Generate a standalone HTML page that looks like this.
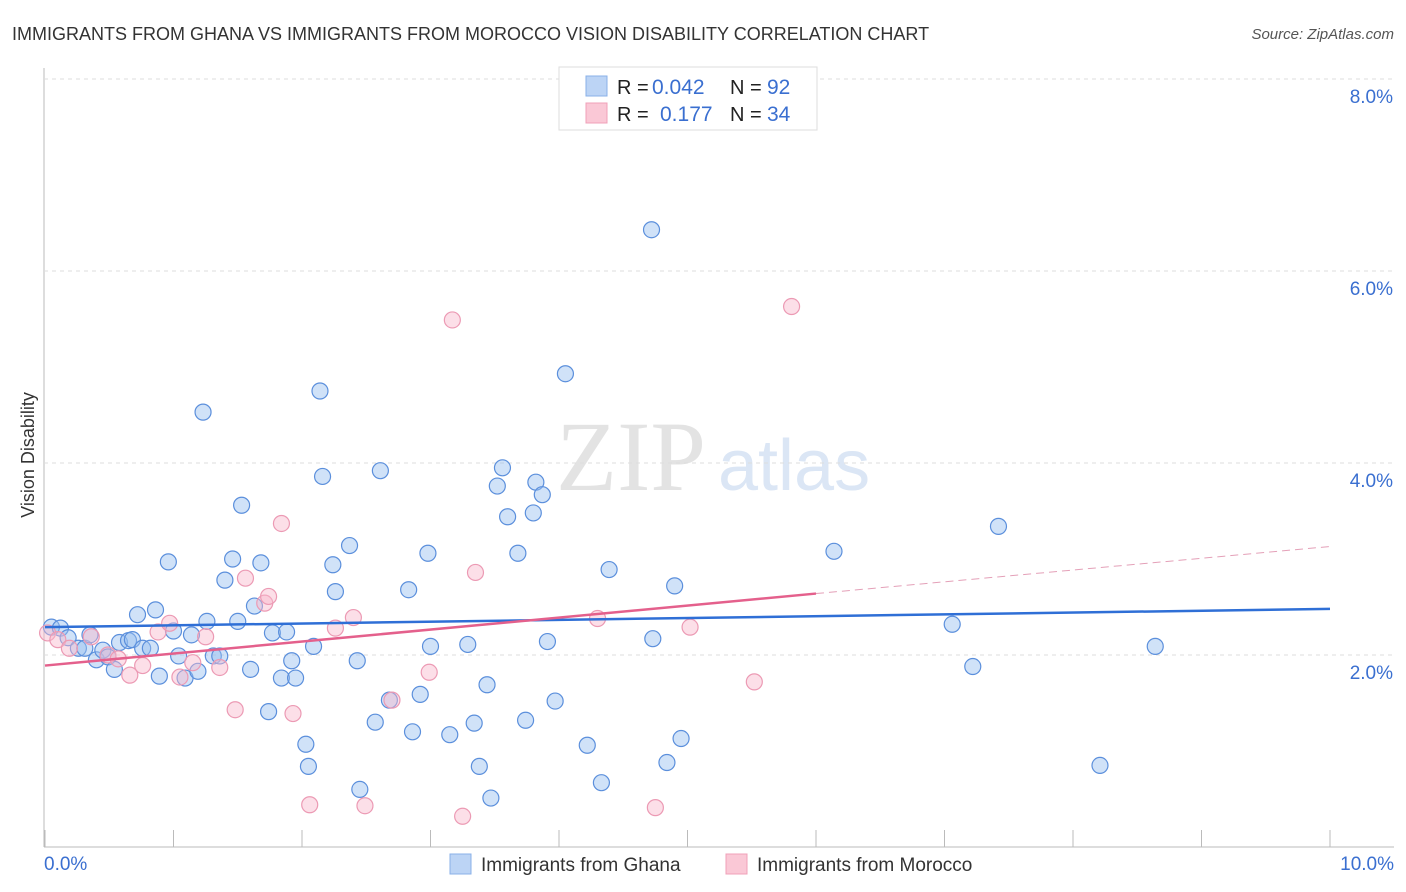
<!DOCTYPE html>
<html><head><meta charset="utf-8"><style>
body{margin:0;background:#fff;font-family:"Liberation Sans",sans-serif;}
svg{display:block}
</style></head><body>
<svg id="c" width="1406" height="892">
<text x="12" y="40" font-size="18" fill="#333">IMMIGRANTS FROM GHANA VS IMMIGRANTS FROM MOROCCO VISION DISABILITY CORRELATION CHART</text>
<text x="1394" y="39" font-size="15" fill="#555" font-style="italic" text-anchor="end">Source: ZipAtlas.com</text>
<text x="556" y="490" font-size="100" fill="#e3e3e3" font-family="Liberation Serif,serif">ZIP</text>
<text x="718" y="490" font-size="72" fill="#dbe6f5">atlas</text>
<text x="34" y="455" font-size="18" fill="#333" text-anchor="middle" transform="rotate(-90 34 455)">Vision Disability</text>
<g id="grid"></g><g id="pts"></g><g id="lines"></g>
<g>
<rect x="559" y="67" width="258" height="63" fill="#fff" stroke="#ddd"/>
<rect x="586" y="76" width="21" height="20" fill="#bcd4f5" stroke="#8ab0e8"/>
<rect x="586" y="103" width="21" height="20" fill="#fac8d6" stroke="#f0a0b8"/>
<text x="617" y="94" font-size="20" fill="#222">R =</text>
<text x="652" y="94" font-size="21" fill="#3a6fd0">0.042</text>
<text x="730" y="94" font-size="20" fill="#222">N =</text>
<text x="767" y="94" font-size="21" fill="#3a6fd0">92</text>
<text x="617" y="121" font-size="20" fill="#222">R =</text>
<text x="660" y="121" font-size="21" fill="#3a6fd0">0.177</text>
<text x="730" y="121" font-size="20" fill="#222">N =</text>
<text x="767" y="121" font-size="21" fill="#3a6fd0">34</text>
</g>
<g>
<rect x="450" y="854" width="21" height="20" fill="#bcd4f5" stroke="#8ab0e8"/>
<text x="481" y="871" font-size="19" fill="#333">Immigrants from Ghana</text>
<rect x="726" y="854" width="21" height="20" fill="#fac8d6" stroke="#f0a0b8"/>
<text x="757" y="871" font-size="19" fill="#333">Immigrants from Morocco</text>
</g>
</svg>
<script>
const yTicks=[2,4,6,8];
const xTickLabels=["0.0%","10.0%"];
const ghanaX=[0.05,0.12,0.18,0.26,0.31,0.35,0.40,0.45,0.49,0.54,0.58,0.65,0.68,0.72,0.76,0.82,0.86,0.89,0.96,1.00,1.04,1.09,1.14,1.19,1.23,1.26,1.31,1.36,1.40,1.46,1.50,1.53,1.60,1.63,1.68,1.74,1.77,1.84,1.88,1.92,1.95,2.03,2.05,2.09,2.14,2.16,2.24,2.26,2.37,2.43,2.45,2.57,2.61,2.68,2.83,2.86,2.92,2.98,3.00,3.15,3.29,3.34,3.38,3.44,3.47,3.52,3.56,3.60,3.68,3.74,3.80,3.82,3.87,3.91,3.97,4.05,4.22,4.33,4.39,4.72,4.73,4.84,4.90,4.95,6.14,7.06,7.22,7.42,8.21,8.64];
const ghanaY=[2.29,2.28,2.18,2.07,2.07,2.21,1.95,2.05,1.98,1.85,2.13,2.15,2.16,2.42,2.07,2.07,2.47,1.78,2.97,2.25,1.99,1.76,2.21,1.83,4.53,2.35,1.99,1.99,2.78,3.0,2.35,3.56,1.85,2.51,2.96,1.41,2.23,1.76,2.24,1.94,1.76,1.07,0.84,2.09,4.75,3.86,2.94,2.66,3.14,1.94,0.6,1.3,3.92,1.53,2.68,1.2,1.59,3.06,2.09,1.17,2.11,1.29,0.84,1.69,0.51,3.76,3.95,3.44,3.06,1.32,3.48,3.80,3.67,2.14,1.52,4.93,1.06,0.67,2.89,6.43,2.17,0.88,2.72,1.13,3.08,2.32,1.88,3.34,0.85,2.09];
const morX=[0.02,0.1,0.19,0.36,0.49,0.57,0.66,0.76,0.88,0.97,1.05,1.15,1.25,1.36,1.48,1.56,1.71,1.74,1.84,1.93,2.06,2.26,2.4,2.49,2.7,2.99,3.17,3.25,3.35,4.3,4.75,5.02,5.52,5.81];
const morY=[2.23,2.16,2.07,2.19,2.0,1.96,1.79,1.89,2.24,2.33,1.77,1.92,2.19,1.87,1.43,2.8,2.54,2.61,3.37,1.39,0.44,2.28,2.39,0.43,1.53,1.82,5.49,0.32,2.86,2.38,0.41,2.29,1.72,5.63];
const ghanaTrend=[0,2.29,10,2.48];
const morTrend=[0,1.89,6.0,2.64,10,3.13];
const ns="http://www.w3.org/2000/svg";
const X=v=>45+v*128.5, Y=v=>847-v*96;
function mk(t,a,p){const e=document.createElementNS(ns,t);for(const k in a)e.setAttribute(k,a[k]);p.appendChild(e);return e;}
const g=document.getElementById('grid');
mk('line',{x1:44,y1:68,x2:44,y2:847,stroke:'#bbb'},g);
mk('line',{x1:44,y1:847,x2:1394,y2:847,stroke:'#bbb'},g);
for(let i=0;i<=10;i++){mk('line',{x1:X(i),y1:830,x2:X(i),y2:847,stroke:'#bbb'},g);}
yTicks.forEach(t=>{
const l=mk('line',{x1:44,y1:Y(t),x2:1394,y2:Y(t),stroke:'#ddd','stroke-dasharray':'4,4'},g);


const tx=mk('text',{x:1393,y:Y(t)+24,'font-size':19,fill:'#3a6fd0','text-anchor':'end'},g);
tx.textContent=t.toFixed(1)+'%';


});
xTickLabels.forEach((s,i)=>{
const tx=mk('text',{x:i?1394:44,y:870,'font-size':19,fill:'#3a6fd0','text-anchor':i?'end':'start'},g);
tx.textContent=s;


});
const p=document.getElementById('pts');
ghanaX.forEach((x,i)=>{
const c=mk('circle',{cx:X(x),cy:Y(ghanaY[i]),r:8,fill:'rgba(150,190,240,0.45)',stroke:'#5b8fdc','stroke-width':1.2},p);


});
morX.forEach((x,i)=>{
const c=mk('circle',{cx:X(x),cy:Y(morY[i]),r:8,fill:'rgba(248,185,205,0.45)',stroke:'#ec9ab4','stroke-width':1.2},p);


});
const L=document.getElementById('lines');
const bl=mk('line',{x1:X(ghanaTrend[0]),y1:Y(ghanaTrend[1]),x2:X(ghanaTrend[2]),y2:Y(ghanaTrend[3]),stroke:'#2f6fd6','stroke-width':2.5},L);


const pl=mk('line',{x1:X(morTrend[0]),y1:Y(morTrend[1]),x2:X(morTrend[2]),y2:Y(morTrend[3]),stroke:'#e4608c','stroke-width':2.5},L);


const pd=mk('line',{x1:X(morTrend[2]),y1:Y(morTrend[3]),x2:X(morTrend[4]),y2:Y(morTrend[5]),stroke:'#e4a0b8','stroke-width':1,'stroke-dasharray':'8,5'},L);


</script>
</body></html>
